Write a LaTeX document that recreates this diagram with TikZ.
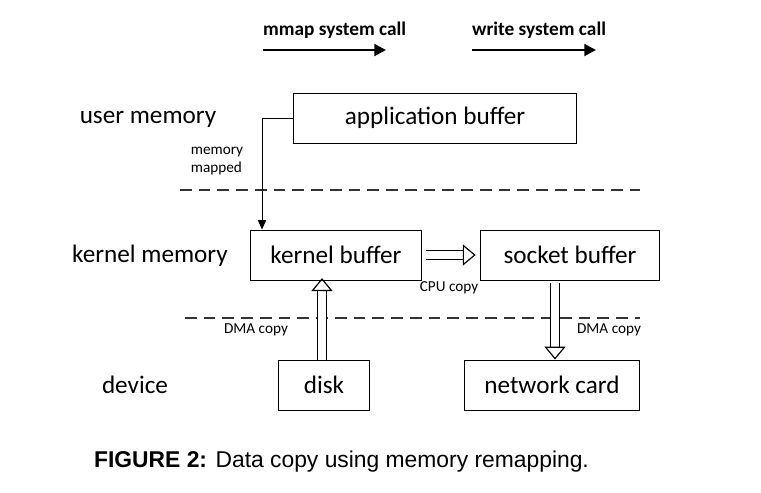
\documentclass[tikz,border=0pt]{standalone}
\usepackage{fontspec}
\setmainfont{Carlito}
\newfontfamily\capfont{Liberation Sans}
\usetikzlibrary{arrows.meta}
\tikzset{
  box/.style={draw, thick, minimum width=#1, minimum height=1.5cm, font=\fontsize{21.5}{24}\selectfont},
  lbl/.style={font=\fontsize{21.5}{24}\selectfont},
  small/.style={font=\fontsize{13}{15}\selectfont, align=left},
  sep/.style={line width=1.6pt, dash pattern=on 10pt off 6pt, gray!40!black},
  hollow/.style={double, double distance=6pt, line width=1pt,
    -{Triangle[open, length=11pt, width=18pt]}},
}
\begin{document}
\begin{tikzpicture}[x=0.03cm, y=-0.03cm]
  \useasboundingbox (0,0) rectangle (761,492);

  % system call arrows
  \node[font=\bfseries\fontsize{16.5}{19}\selectfont, anchor=west] (mmap) at (259,30) {mmap system call};
  \node[font=\bfseries\fontsize{16.5}{19}\selectfont, anchor=west] (write) at (468,30) {write system call};
  \coordinate (m1) at (263,50); \coordinate (m2) at (386,50);
  \coordinate (w1) at (472,50); \coordinate (w2) at (596,50);
  \draw[line width=2.4pt, -{Triangle[length=10pt, width=10pt]}] (m1) -- (m2);
  \draw[line width=2.4pt, -{Triangle[length=10pt, width=10pt]}] (w1) -- (w2);

  % levels
  \node[lbl] (user) at (148,119) {user memory};
  \node[lbl] (kernel) at (150,256) {kernel memory};
  \node[lbl] (device) at (135,385) {device};

  \coordinate (s1) at (180,190); \coordinate (s2) at (640,190);
  \coordinate (t1) at (185,318); \coordinate (t2) at (640,318);
  \draw[sep] (s1) -- (s2);
  \draw[sep] (t1) -- (t2);

  % buffers
  \node[box=8.5cm] (app) at (435,118) {application buffer};
  \node[box=5.15cm] (kbuf) at (336,255) {kernel buffer};
  \node[box=5.35cm] (sbuf) at (570,255) {socket buffer};
  \node[box=2.75cm] (disk) at (324,385) {disk};
  \node[box=5.25cm] (nic) at (552,385) {network card};

  % copies
  \draw[thick, -{Triangle[length=8pt, width=7pt]}] (app.west) -| (kbuf.north west -| 262,0);
  \node[small] (mapped) at (217,161) {memory\\mapped};
  \draw[hollow] (kbuf.east) ++(4,0) -- ([xshift=-4pt]sbuf.west);
  \node[small] (cpu) at (449,288) {CPU copy};
  \draw[hollow] (disk.north -| 322,0) -- ([yshift=2pt]kbuf.south -| 322,0);
  \node[small] (dma1) at (256,330) {DMA copy};
  \draw[hollow] ([yshift=-2pt]sbuf.south -| 555,0) -- (nic.north -| 555,0);
  \node[small] (dma2) at (609,330) {DMA copy};

  \node[font=\capfont\fontsize{19.5}{22}\selectfont, anchor=west] (cap) at (90,462)
    {\textbf{FIGURE 2:} Data copy using memory remapping.};
\end{tikzpicture}
\end{document}
